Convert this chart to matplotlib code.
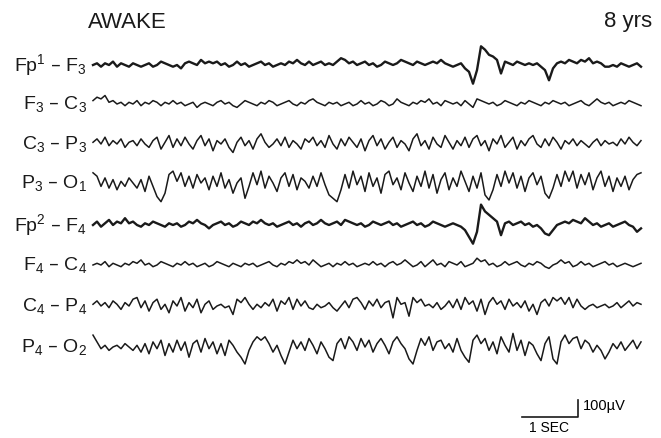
import numpy as np
import matplotlib
matplotlib.use("Agg")
import matplotlib.pyplot as plt

plt.rcParams['font.family'] = ['Liberation Sans', 'DejaVu Sans']

# channel names (bipolar montage)
channels = ['Fp$\\mathregular{^1}$ – F$\\mathregular{_3}$',
            'F$\\mathregular{_3}$ – C$\\mathregular{_3}$',
            'C$\\mathregular{_3}$ – P$\\mathregular{_3}$',
            'P$\\mathregular{_3}$ – O$\\mathregular{_1}$',
            'Fp$\\mathregular{^2}$ – F$\\mathregular{_4}$',
            'F$\\mathregular{_4}$ – C$\\mathregular{_4}$',
            'C$\\mathregular{_4}$ – P$\\mathregular{_4}$',
            'P$\\mathregular{_4}$ – O$\\mathregular{_2}$']

# traces, in units of 10 uV, about 14 samples / sec
fp1_f3 = [0, 1, -1, 1, 0, 2, -1, 1, 0, -1,
          1, 0, -1, 0, 1, -1, 0, 2, 1, 0,
          -1, 0, -2, 1, 2, 1, 0, 3, 1, 2,
          1, 2, 0, 1, -1, 0, 2, 0, 1, -1,
          0, 1, 2, 0, 1, -1, 0, 1, 0, 2,
          1, 3, 1, 0, 2, 0, 1, 2, 0, 1,
          0, 2, 4, 3, 1, 2, 0, 1, 2, 0,
          1, -1, 0, 2, 1, 0, 1, 3, 2, 1,
          0, 2, 1, 0, 1, 2, 1, 3, 1, 0,
          -1, 0, 1, -2, -4, -11, -3, 11, 9, 6,
          5, 3, -5, 2, 1, 0, 2, 1, 0, 1,
          0, 1, -1, -3, -9, -2, 1, 2, 1, 3,
          2, 1, 3, 2, 4, 1, 2, 1, -1, -1,
          0, -1, 1, 0, -1, 0, 1, -1]
f3_c3 = [2, 4, 3, 5, 1, 2, 0, 1, -1, 1,
         0, 2, -1, 1, 0, 2, 1, -1, 1, 0,
         2, 0, 1, -1, 0, 1, -2, 0, 1, 0,
         -1, 1, 2, 0, 1, -1, -2, 0, 2, 1,
         0, -1, 1, 0, 2, 1, -1, 0, 1, 2,
         0, -1, 1, 0, 2, 3, 1, 0, -1, 1,
         0, 1, -1, 0, 1, -1, 0, 2, 0, 1,
         -1, 0, 2, 1, -1, 0, 3, 1, 0, -1,
         1, 0, 2, 1, 3, 0, 1, -1, 2, 1,
         0, 1, -1, 2, 0, -2, 3, 2, 1, 0,
         1, -1, 0, 2, 1, 0, -1, 1, 0, 2,
         1, 0, -1, 1, 0, 2, 1, 0, 1, -1,
         0, 1, 2, 0, -1, 1, 3, 1, 0, 1,
         -1, 0, 1, 0, 2, 1, 0, -1]
c3_p3 = [1, 3, 0, 4, -1, 2, 0, 3, -2, 1,
         2, -1, 3, 0, -2, 2, 4, -3, 1, 5,
         -2, 3, -1, 4, 0, -3, 2, 5, -1, 3,
         -4, 2, 0, 3, -2, -5, 1, 4, -1, 2,
         -3, 3, 6, 1, -2, 0, 3, -1, 4, -2,
         2, 0, -3, 3, 1, 4, -1, 2, -2, 5,
         0, -3, 3, -1, 4, 1, -2, 3, -4, 2,
         5, -1, 3, -3, 1, 4, -2, 2, 0, -4,
         3, 6, -1, 2, -3, 4, 0, -2, 5, 1,
         -3, 2, -1, 4, -2, 3, 5, -1, 2, -4,
         3, 0, 5, -2, 1, 4, -3, 2, -1, 3,
         5, 0, -2, 3, -1, 4, 1, -3, 2, 0,
         3, -1, 2, 0, -2, 1, 3, -1, 2, 0,
         1, -1, 3, 0, 4, 1, -1, 2]
p3_o1 = [6, 4, -2, 3, -3, 2, -4, 1, -2, 3,
         0, -3, 2, -5, 4, -2, -8, -11, -6, 5,
         7, 1, 6, -2, 4, -3, 5, 0, 3, -4,
         4, -2, 6, -3, 2, -6, 0, 3, -9, -2,
         6, -1, 7, -3, 4, 0, -5, 3, 6, -2,
         5, -4, 3, 1, -3, 4, -2, 6, -1, -7,
         -9, -11, -4, 5, -3, 7, -1, 4, -5, 6,
         -2, 3, -6, 5, 7, -1, 3, -4, 6, 0,
         -5, 4, -2, 7, -3, 5, -6, 2, 6, -4,
         3, -2, 7, 1, -5, 4, -3, 6, -7, -10,
         -4, 5, -2, 7, 0, 6, -3, 4, -5, 3,
         6, -1, 4, -6, -9, -3, 5, -2, 7, 1,
         7, -3, 5, -1, 6, -4, 3, 7, -2, 4,
         -5, 3, -2, 4, -4, 2, 5, 6]
fp2_f4 = [0, 2, -1, 1, 3, 0, 2, 1, 4, 1,
          2, 0, -1, 1, 0, 2, 1, 0, -1, 1,
          0, 1, -1, 0, 2, 1, 3, 1, 0, -2,
          0, 1, 2, 0, 1, -1, 0, 2, 1, 0,
          2, 1, 3, 1, 0, 1, -1, 0, 1, 2,
          0, 1, -1, 1, 2, 0, 1, 3, 1, 0,
          1, 2, 0, 3, 2, 1, 0, 1, -1, 0,
          2, 1, 0, 1, 2, 0, 1, -1, 0, 1,
          2, 0, 1, -1, 0, 2, 1, 0, -1, 0,
          1, 0, -1, -3, -7, -11, -4, 12, 8, 6,
          4, 2, -6, 1, 2, 0, 1, 2, 0, 1,
          -1, 0, -2, -5, -6, -3, 0, 1, 2, 1,
          3, 2, 1, 4, 2, 0, 1, -1, 0, 1,
          -1, 0, 1, 2, 0, -1, -4, -2]
f4_c4 = [0, 1, 0, 2, -1, 1, 0, -1, 1, 0,
         2, 1, 3, 0, 1, -1, 0, 2, 1, 0,
         -1, 1, 0, 2, 0, 1, -1, 0, 1, -1,
         0, 2, 1, 0, -1, 1, 0, -1, 1, 0,
         1, -1, 0, 1, 2, 0, -1, 1, 0, 2,
         1, 3, 1, 2, 0, 3, 1, -1, 0, 1,
         -1, 1, 0, 2, 0, 1, -1, 0, 1, 0,
         2, 0, 1, -1, 1, 2, 0, 1, 3, 1,
         -1, 0, 2, -1, 1, 3, 0, 1, -1, 2,
         1, 0, 2, -1, 0, 1, 4, 2, 3, 0,
         1, -1, 0, 2, 0, 1, 2, 0, -1, 1,
         0, 2, 1, -1, -2, 0, 1, 3, 1, 2,
         -1, 0, 2, 0, 1, -1, 0, 1, 2, 0,
         1, -1, 0, 1, 0, -1, 0, 1]
c4_p4 = [1, 3, 0, 2, -1, 3, 1, -2, 2, 0,
         4, 5, -1, 3, -3, 2, 4, -2, 1, -4,
         3, 0, 5, -3, 2, -1, 4, -4, 1, 3,
         -2, 0, 1, -1, 0, -5, 4, 2, 5, 1,
         -2, 1, -1, 2, 0, 4, -3, 3, 1, 5,
         -2, 4, 0, 3, -1, -2, 1, -1, 0, 2,
         -1, -3, 0, 3, -1, 4, 5, 2, -2, 3,
         0, 4, -1, 2, 3, -7, 5, 1, 2, -6,
         5, 2, 4, 0, 1, -1, 2, -2, 0, 3,
         -1, 4, -2, 5, 1, 3, -3, 4, -5, 2,
         5, 1, 3, -2, 4, 0, 2, -1, 3, -3,
         1, -5, 2, 4, 0, 5, 3, 5, 1, 5,
         -1, 4, 0, -2, 0, 1, -1, 0, 1, -1,
         0, 2, -1, 1, 3, 0, 2, 1]
p4_o2 = [7, 3, -1, 1, -2, 0, 1, -1, 2, 0,
         -2, 1, -3, 2, -4, 3, -1, 4, -5, 2,
         -3, 4, -2, 3, -6, 2, 4, -3, 5, -1,
         3, -4, 2, -5, 4, 1, -3, -6, -10, -2,
         3, 6, 4, 6, 2, -3, 1, -5, -10, -3,
         4, -1, 3, -2, 5, 1, -4, 3, -1, -6,
         -8, 2, 5, -1, 6, 3, -2, 5, 0, 4,
         -3, 2, 5, 1, -4, 3, 6, 2, -1, -7,
         -10, -2, 5, 1, 6, -2, 3, 4, -1, 2,
         -3, 5, -2, -6, -9, 4, 7, 2, 5, -2,
         3, -4, 6, 1, -3, 8, -2, 4, -5, 3,
         1, -4, -8, 2, 6, -7, -10, 3, 7, 2,
         5, 6, -1, 4, 2, -3, 1, -2, -7, -3,
         2, -1, 3, -2, 1, 4, -1, 3]

traces = [fp1_f3, f3_c3, c3_p3, p3_o1, fp2_f4, f4_c4, c4_p4, p4_o2]

FS = 14.0          # samples per second
PX_PER_SEC = 56.0  # paper speed in pixels
PX_PER_UNIT = 1.7  # 10 uV -> pixels
x0 = 93
baselines = [65, 104, 144, 183, 225, 265, 306, 347]

fig = plt.figure(figsize=(6.61, 4.38), dpi=100)
ax = fig.add_axes([0, 0, 1, 1])
ax.set_xlim(0, 661)
ax.set_ylim(438, 0)
ax.axis('off')

for i, (name, tr) in enumerate(zip(channels, traces)):
    v = np.array(tr, dtype=float)
    t = np.arange(len(v)) / FS
    x = x0 + t * PX_PER_SEC
    y = baselines[i] - v * PX_PER_UNIT
    lw = 1.7 if i in (0, 4) else 1.1
    ax.plot(x, y, color='#1a1a1a', lw=lw, solid_joinstyle='round')
    ax.text(87, baselines[i], name, ha='right', va='center', fontsize=14, color='#1a1a1a')

ax.text(88, 22, 'AWAKE', ha='left', va='center', fontsize=16, color='#1a1a1a')
ax.text(652, 22, '8 yrs', ha='right', va='center', fontsize=16, color='#1a1a1a')

# calibration: 1 sec, 100 uV
bx, by = 578, 417
ax.plot([bx - 1.0 * PX_PER_SEC, bx, bx], [by, by, by - 10 * PX_PER_UNIT],
        color='#1a1a1a', lw=1.2)
ax.text(bx + 5, by - 11, '100µV', ha='left', va='center', fontsize=10.5)
ax.text(bx - 29, by + 11, '1 SEC', ha='center', va='center', fontsize=10)

fig.savefig('out.png', dpi=100)
